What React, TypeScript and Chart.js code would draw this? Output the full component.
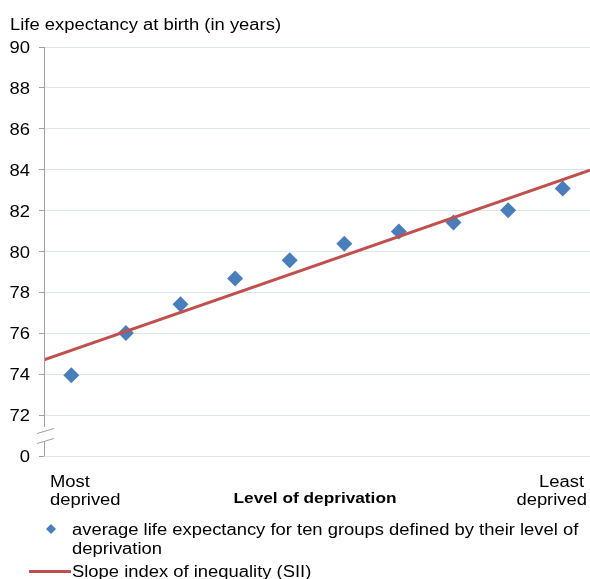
import React, { useEffect, useRef } from "react";
import { Chart, registerables } from "chart.js";

Chart.register(...registerables);

const groups = [0, 1, 2, 3, 4, 5, 6, 7, 8, 9];
const lifeExpectancy = [73.95, 76.02, 77.42, 78.68, 79.57, 80.38, 80.98, 81.42, 82.02, 83.08];
const siiX = [-0.5, 9.5];
const siiY = [74.7, 83.98];
const yTicks = [70, 72, 74, 76, 78, 80, 82, 84, 86, 88, 90];
const yTickLabels = ["0", "72", "74", "76", "78", "80", "82", "84", "86", "88", "90"];

const yTitle = "Life expectancy at birth (in years)";
const xTitle = "Level of deprivation";
const leftLabel = ["Most", "deprived"];
const rightLabel = ["Least", "deprived"];
const legendPoints = ["average life expectancy for ten groups defined by their level of", "deprivation"];
const legendLine = "Slope index of inequality (SII)";

const FONT = "'Liberation Sans', Arial, sans-serif";
const BLUE = "#4a7ebb";
const RED = "#c0504d";
const AXIS = "#a0a0a0";
const SX = 1.15;

function txt(ctx: any, s: string, x: number, y: number, align: "left" | "right" | "center", font: string) {
  ctx.save();
  ctx.font = font;
  ctx.textAlign = align;
  ctx.textBaseline = "alphabetic";
  ctx.translate(x, y);
  ctx.scale(SX, 1);
  ctx.fillText(s, 0, 0);
  ctx.restore();
}

const overlay = {
  id: "overlay",
  afterDraw(chart: any) {
    const ctx = chart.ctx;
    const area = chart.chartArea;
    const ys = chart.scales.y;
    ctx.save();
    // y axis line with break
    const yBreakTop = 427;
    const yBreakBot = 442;
    ctx.strokeStyle = AXIS;
    ctx.lineWidth = 1;
    const ax = area.left + 0.5;
    ctx.beginPath();
    ctx.moveTo(ax, area.top);
    ctx.lineTo(ax, yBreakTop);
    ctx.moveTo(ax, yBreakBot);
    ctx.lineTo(ax, area.bottom);
    ctx.stroke();
    ctx.beginPath();
    ctx.moveTo(37, 433.5);
    ctx.lineTo(54, 428.5);
    ctx.moveTo(37, 443.5);
    ctx.lineTo(54, 438.5);
    ctx.stroke();

    ctx.fillStyle = "#000";
    const f16 = `16px ${FONT}`;
    // tick labels
    yTicks.forEach((v, i) => {
      const py = ys.getPixelForValue(v);
      txt(ctx, yTickLabels[i], 30, py + 6, "right", f16);
    });

    txt(ctx, yTitle, 10, 30, "left", f16);

    // x labels
    txt(ctx, leftLabel[0], 50, 487, "left", f16);
    txt(ctx, leftLabel[1], 50, 505, "left", f16);
    txt(ctx, rightLabel[0], 584, 487, "right", f16);
    txt(ctx, rightLabel[1], 587, 505, "right", f16);
    txt(ctx, xTitle, 315, 503, "center", `bold 15px ${FONT}`);

    // legend
    ctx.fillStyle = BLUE;
    ctx.beginPath();
    ctx.moveTo(51, 524);
    ctx.lineTo(56, 529);
    ctx.lineTo(51, 534);
    ctx.lineTo(46, 529);
    ctx.closePath();
    ctx.fill();
    ctx.fillStyle = "#000";
    txt(ctx, legendPoints[0], 72, 535, "left", f16);
    txt(ctx, legendPoints[1], 72, 554, "left", f16);
    ctx.strokeStyle = RED;
    ctx.lineWidth = 3;
    ctx.beginPath();
    ctx.moveTo(29, 571.5);
    ctx.lineTo(71, 571.5);
    ctx.stroke();
    txt(ctx, legendLine, 72, 577, "left", f16);
    ctx.restore();
  },
};

export default function App() {
  const ref = useRef<HTMLCanvasElement | null>(null);
  useEffect(() => {
    if (!ref.current) return;
    const chart = new Chart(ref.current, {
      type: "scatter",
      data: {
        datasets: [
          {
            label: "points",
            data: groups.map((g, i) => ({ x: g, y: lifeExpectancy[i] })),
            pointStyle: "rectRot",
            pointRadius: 8,
            backgroundColor: BLUE,
            borderColor: BLUE,
            borderWidth: 0,
            order: 2,
          },
          {
            label: "sii",
            type: "line",
            data: siiX.map((x, i) => ({ x, y: siiY[i] })),
            borderColor: RED,
            borderWidth: 3,
            pointRadius: 0,
            order: 1,
          } as any,
        ],
      },
      options: {
        animation: false,
        responsive: false,
        devicePixelRatio: 1,
        layout: { autoPadding: false, padding: { top: 47, bottom: 123, left: 0, right: 0 } },
        plugins: { legend: { display: false }, tooltip: { enabled: false } },
        scales: {
          x: { type: "linear", min: -0.5, max: 9.5, display: false },
          y: {
            type: "linear",
            min: 70,
            max: 90,
            afterBuildTicks: (s: any) => {
              s.ticks = yTicks.map((v) => ({ value: v }));
            },
            afterFit: (s: any) => {
              s.width = 44;
            },
            border: { display: false },
            grid: { color: "#dce6f2", lineWidth: 1, tickLength: 5, tickColor: AXIS },
            ticks: { display: false },
          },
        },
      },
      plugins: [overlay],
    });
    return () => chart.destroy();
  }, []);
  return (
    <div style={{ position: "absolute", left: 0, top: 0, width: 590, height: 579, background: "#fff" }}>
      <canvas ref={ref} width={590} height={579} />
    </div>
  );
}
